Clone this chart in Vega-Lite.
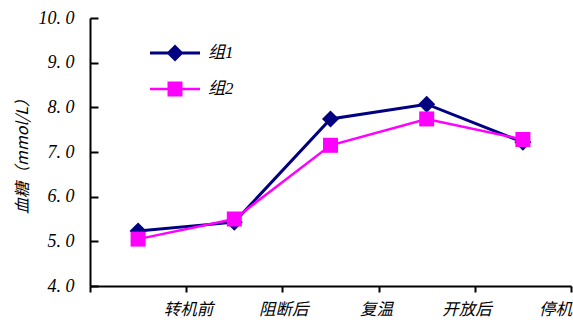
{
  "$schema": "https://vega.github.io/schema/vega-lite/v6.json",
  "width": 481,
  "height": 268,
  "autosize": {"type": "none"},
  "padding": {"left": 90, "top": 18, "right": 2, "bottom": 36},
  "background": "white",
  "config": {"view": {"stroke": null}, "font": "Liberation Serif, Noto Sans CJK SC"},
  "data": {"values": [
    {"stage": "转机前", "group": "组1", "value": 5.23},
    {"stage": "阻断后", "group": "组1", "value": 5.43},
    {"stage": "复温", "group": "组1", "value": 7.74},
    {"stage": "开放后", "group": "组1", "value": 8.07},
    {"stage": "停机", "group": "组1", "value": 7.22},
    {"stage": "转机前", "group": "组2", "value": 5.05},
    {"stage": "阻断后", "group": "组2", "value": 5.5},
    {"stage": "复温", "group": "组2", "value": 7.15},
    {"stage": "开放后", "group": "组2", "value": 7.74},
    {"stage": "停机", "group": "组2", "value": 7.28}
  ]},
  "encoding": {
    "x": {
      "field": "stage", "type": "nominal",
      "sort": ["转机前", "阻断后", "复温", "开放后", "停机"],
      "scale": {"type": "band", "paddingInner": 0, "paddingOuter": 0},
      "axis": {
        "title": null, "labelAngle": 0, "domainColor": "black", "domainWidth": 2,
        "tickColor": "black", "tickWidth": 2, "tickSize": 6, "tickBand": "extent",
        "labelOffset": {"expr": "50 - 18 * pow(datum.index, 2)"},
        "labelPadding": 9, "labelFontSize": 16.5, "labelFontStyle": "italic",
        "labelColor": "black", "labelFont": "Noto Sans CJK SC", "grid": false
      }
    },
    "y": {
      "field": "value", "type": "quantitative",
      "scale": {"domain": [4, 10], "nice": false, "zero": false},
      "axis": {
        "title": "血糖（mmol/L）", "titleFontSize": 16, "titleFontWeight": "normal", "titleColor": "black",
        "titleFont": "Noto Sans CJK SC", "titlePadding": 8, "titleFontStyle": "italic",
        "values": [4, 5, 6, 7, 8, 9, 10],
        "labelExpr": "replace(format(datum.value, '.1f'), '.', '. ')",
        "domainColor": "black", "domainWidth": 2, "tickColor": "black", "tickWidth": 2, "tickSize": -8,
        "labelPadding": 24, "labelFontSize": 18, "labelFontStyle": "italic", "labelColor": "black",
        "labelFont": "Liberation Serif", "grid": false
      }
    },
    "color": {
      "field": "group", "type": "nominal",
      "scale": {"domain": ["组1", "组2"], "range": ["#000080", "#FF00FF"]},
      "legend": {
        "title": null, "orient": "none", "legendX": 60, "legendY": 10,
        "symbolSize": 2500, "labelFontSize": 17, "labelFontStyle": "italic", "labelColor": "black",
        "labelOffset": 8, "rowPadding": 2,
        "encode": {
          "symbols": {
            "update": {
              "shape": {"signal": "datum.value === '组1' ? 'M-1,-0.06H1V0.06H-1Z M-0.34,0L0,-0.34L0.34,0L0,0.34Z' : 'M-1,-0.05H1V0.05H-1Z M-0.3,-0.3H0.3V0.3H-0.3Z'"},
              "size": {"value": 2500},
              "fill": {"signal": "datum.value === '组1' ? '#000080' : '#FF00FF'"},
              "strokeWidth": {"value": 0},
              "opacity": {"value": 1}
            }
          }
        }
      }
    }
  },
  "layer": [
    {
      "transform": [{"filter": "datum.group === '组1'"}],
      "mark": {"type": "line", "strokeWidth": 3}
    },
    {
      "transform": [{"filter": "datum.group === '组1'"}],
      "mark": {"type": "point", "filled": true, "opacity": 1, "shape": "diamond", "size": 290}
    },
    {
      "transform": [{"filter": "datum.group === '组2'"}],
      "mark": {"type": "line", "strokeWidth": 2.5}
    },
    {
      "transform": [{"filter": "datum.group === '组2'"}],
      "mark": {"type": "point", "filled": true, "opacity": 1, "shape": "square", "size": 225}
    }
  ]
}
